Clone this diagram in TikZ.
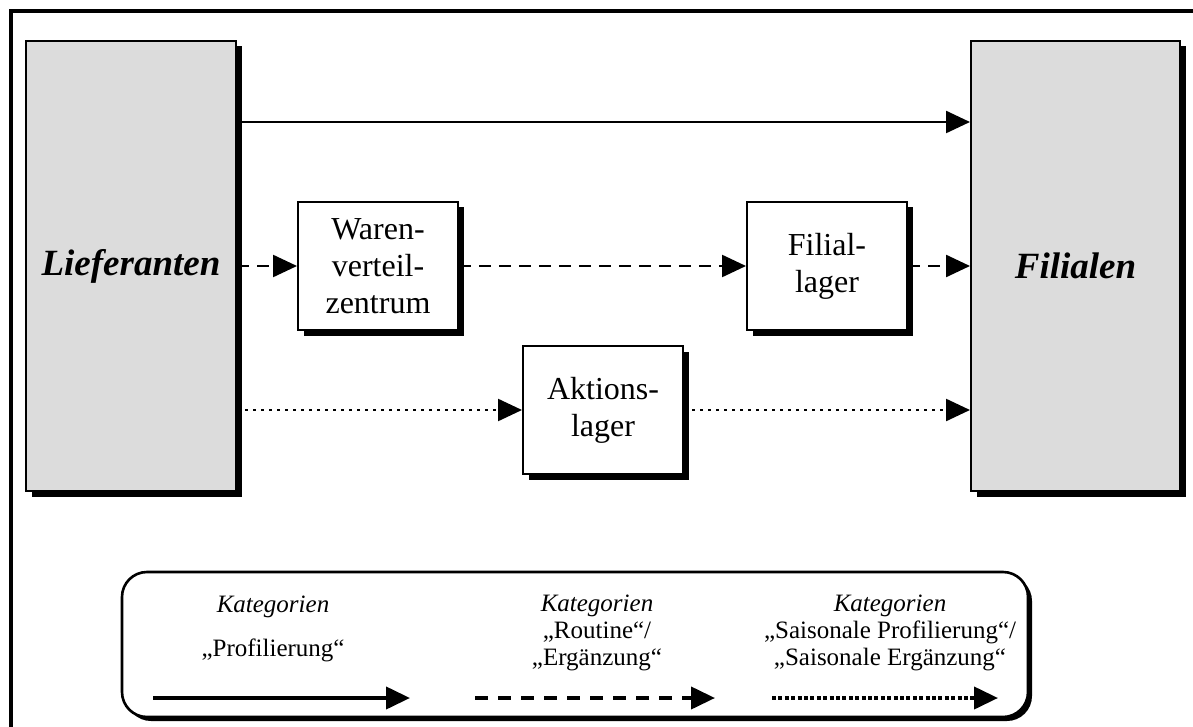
\documentclass[tikz,border=0pt]{standalone}
\usepackage{fontspec}
\setmainfont{Liberation Serif}
\usetikzlibrary{arrows.meta,shadows}
\definecolor{boxgray}{HTML}{DCDCDC}
\begin{document}
\begin{tikzpicture}[x=0.5pt,y=-0.5pt,
  shad/.style={drop shadow={shadow xshift=2.75pt,shadow yshift=-2.75pt,fill=black,opacity=1}},
  bigbox/.style={draw=black,line width=1pt,fill=boxgray,inner sep=0pt,
    minimum width=105pt,minimum height=225pt,
    font=\fontsize{18.5}{22}\selectfont\bfseries\itshape,shad},
  smallbox/.style={draw=black,line width=1pt,fill=white,inner sep=0pt,
    minimum width=80pt,minimum height=64pt,align=center,
    font=\fontsize{16}{18.5}\selectfont,shad},
  tip/.style={-{Triangle[length=12pt,width=11pt]}},
  flow/.style={line width=1.2pt,tip},
  flowdash/.style={flow,dash pattern=on 6pt off 4pt},
  flowdot/.style={flow,dash pattern=on 1.25pt off 2.75pt},
  legline/.style={line width=2pt,tip},
  legdash/.style={legline,dash pattern=on 6.5pt off 5pt},
  legdot/.style={legline,dash pattern=on 2pt off 1.2pt},
  legbox/.style={draw=black,line width=1.3pt,fill=white,rounded corners=12.5pt,
    minimum width=453pt,minimum height=72.5pt,inner sep=0pt,
    drop shadow={shadow xshift=2pt,shadow yshift=-2pt,fill=black,opacity=1}},
  legtxt/.style={align=center,inner sep=0pt,font=\fontsize{12.5}{13.5}\selectfont},
]
\useasboundingbox (0,0) rectangle (1193,727);
\clip (0,0) rectangle (1193,727);
\fill[white] (0,0) rectangle (1193,727);
\draw[line width=1.6pt] (11,11) rectangle (1260,800);

% main boxes
\node[bigbox] (lief) at (131,266) {Lieferanten};
\node[bigbox,minimum width=104.5pt] (fil) at (1075.5,266) {Filialen};
\node[smallbox] (wvz) at (378,266) {Waren-\\verteil-\\zentrum};
\node[smallbox] (fl) at (827,266) {Filial-\\lager};
\node[smallbox] (akt) at (603,410) {Aktions-\\lager};

% connectors
\coordinate (ytop) at (0,122);
\draw[flow] (lief.east |- ytop) -- (fil.west |- ytop);
\draw[flowdash] (lief.east) -- (wvz.west);
\draw[flowdash] (wvz.east) -- (fl.west);
\draw[flowdash] (fl.east) -- (fil.west);
\draw[flowdot] (lief.east |- akt.west) -- (akt.west);
\draw[flowdot] (akt.east) -- (fil.west |- akt.east);

% legend
\node[legbox] (leg) at (575,644.5) {};
\node[legtxt] (k1) at (273,607) {\textit{Kategorien}};
\node[legtxt] (p1) at (273,650) {„Profilierung“};
\node[legtxt] (k2) at (597,633) {\textit{Kategorien}\\„Routine“/\\„Ergänzung“};
\node[legtxt] (k3) at (890,633) {\textit{Kategorien}\\„Saisonale Profilierung“/\\„Saisonale Ergänzung“};
\coordinate (s1) at (153,698);
\coordinate (e1) at (410,698);
\coordinate (s2) at (475,698);
\coordinate (e2) at (715,698);
\coordinate (s3) at (772,698);
\coordinate (e3) at (998,698);
\draw[legline] (s1) -- (e1);
\draw[legdash] (s2) -- (e2);
\draw[legdot] (s3) -- (e3);
\end{tikzpicture}
\end{document}
